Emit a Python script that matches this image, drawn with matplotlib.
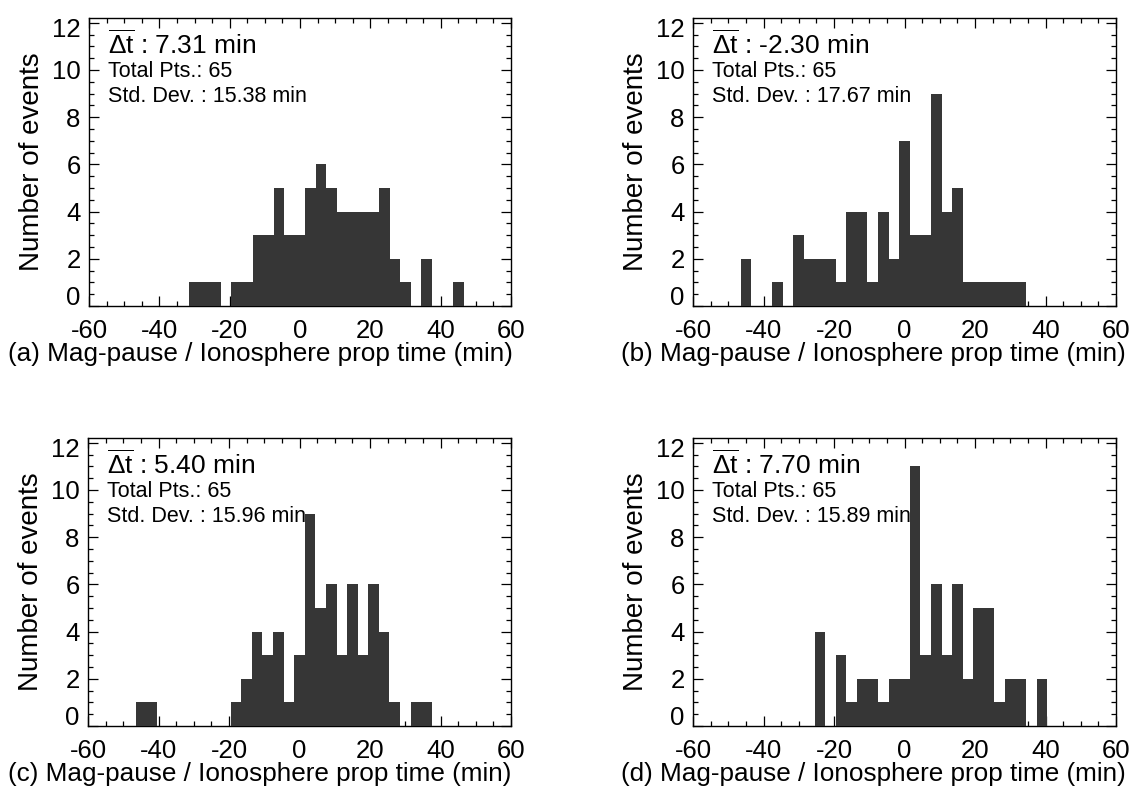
import matplotlib
matplotlib.use("Agg")
import matplotlib.pyplot as plt
from matplotlib.ticker import MultipleLocator
from matplotlib import rcParams
import matplotlib.transforms as mtransforms

rcParams.update({
    "font.family": ["Liberation Sans", "DejaVu Sans"],
    "mathtext.fontset": "custom",
    "mathtext.rm": "Liberation Sans",
    "mathtext.it": "Liberation Sans",
    "mathtext.bf": "Liberation Sans:bold",
    "axes.unicode_minus": False,
})

# histogram bins (centre in min) and counts, 3 min wide bins
a_centers = [-30, -27, -24, -18, -15, -12, -9, -6, -3, 0, 3, 6, 9, 12, 15, 18, 21, 24, 27, 30, 36, 45]
a_counts = [1, 1, 1, 1, 1, 3, 3, 5, 3, 3, 5, 6, 5, 4, 4, 4, 4, 5, 2, 1, 2, 1]

b_centers = [-45, -36, -30, -27, -24, -21, -18, -15, -12, -9, -6, -3, 0, 3, 6, 9, 12, 15,
             18, 21, 24, 27, 30, 33]
b_counts = [2, 1, 3, 2, 2, 2, 1, 4, 4, 1, 4, 2, 7, 3, 3, 9, 4, 5, 1, 1, 1, 1, 1, 1]

c_centers = [-45, -42, -18, -15, -12, -9, -6, -3, 0, 3, 6, 9, 12, 15, 18, 21, 24, 27, 33, 36]
c_counts = [1, 1, 1, 2, 4, 3, 4, 1, 3, 9, 5, 6, 3, 6, 3, 6, 4, 1, 1, 1]

d_centers = [-24, -18, -15, -12, -9, -6, -3, 0, 3, 6, 9, 12, 15, 18, 21, 24, 27, 30, 33, 39]
d_counts = [4, 3, 1, 2, 2, 1, 2, 2, 11, 3, 6, 3, 6, 2, 5, 5, 1, 2, 2, 2]

means = ["7.31", "-2.30", "5.40", "7.70"]
stds = ["15.38", "17.67", "15.96", "15.89"]
total_pts = [65, 65, 65, 65]
letters = ["a", "b", "c", "d"]

W, H = 1143, 796
# axes boxes in pixels: left, right, top, bottom
boxes = [(89, 511, 18, 306), (693, 1116, 18, 306),
         (88, 511, 438, 726), (693, 1116, 438, 726)]
# x centre (pixels) of the bottom caption, it sits left of the axes centre
xlab_centre = [260, 873, 260, 873]

fig = plt.figure(figsize=(W / 100, H / 100), dpi=100)

data = [(a_centers, a_counts), (b_centers, b_counts),
        (c_centers, c_counts), (d_centers, d_counts)]

for i, (l, r, t, b) in enumerate(boxes):
    ax = fig.add_axes([l / W, (H - b) / H, (r - l) / W, (b - t) / H])
    centers, counts = data[i]
    ax.bar(centers, counts, width=3, color='#363636', edgecolor='none', zorder=3)

    ax.set_xlim(-60, 60)
    ax.set_ylim(0, 12.2)
    ax.xaxis.set_major_locator(MultipleLocator(20))
    ax.xaxis.set_minor_locator(MultipleLocator(5))
    ax.yaxis.set_major_locator(MultipleLocator(2))
    ax.yaxis.set_minor_locator(MultipleLocator(0.5))
    ax.tick_params(which='both', direction='in', top=True, right=True,
                   labelsize=18.5, width=0.9)
    ax.tick_params(which='major', length=7)
    ax.tick_params(which='minor', length=3.5)
    ax.tick_params(axis='x', pad=9)
    ax.tick_params(axis='y', pad=6)
    for s in ax.spines.values():
        s.set_linewidth(1.0)

    # IDL-style: end labels pulled inside the box
    fig.canvas.draw()
    for lab in ax.get_yticklabels():
        if lab.get_text() == '0':
            lab.set_va('bottom')
            lab.set_transform(lab.get_transform() + mtransforms.ScaledTranslation(0, -4 / 100, fig.dpi_scale_trans))
        if lab.get_text() == '12':
            lab.set_transform(lab.get_transform() + mtransforms.ScaledTranslation(0, -5 / 100, fig.dpi_scale_trans))

    ax.set_ylabel('Number of events', fontsize=20, labelpad=5)
    ax.set_xlabel('(%s) Mag-pause / Ionosphere prop time (min)' % letters[i], fontsize=18.8)
    ax.xaxis.set_label_coords((xlab_centre[i] - l) / (r - l), -0.165)
    ax.xaxis.label.set_va('center')

    ax.text(0.044, 0.875, r'$\overline{\Delta\mathrm{t}}$ : %s min' % means[i],
            transform=ax.transAxes, fontsize=19, zorder=1)
    ax.text(0.044, 0.795, 'Total Pts.: %d' % total_pts[i],
            transform=ax.transAxes, fontsize=15.5, zorder=1)
    ax.text(0.044, 0.708, 'Std. Dev. : %s min' % stds[i],
            transform=ax.transAxes, fontsize=15.5, zorder=1)

fig.savefig('out.png', dpi=100)
